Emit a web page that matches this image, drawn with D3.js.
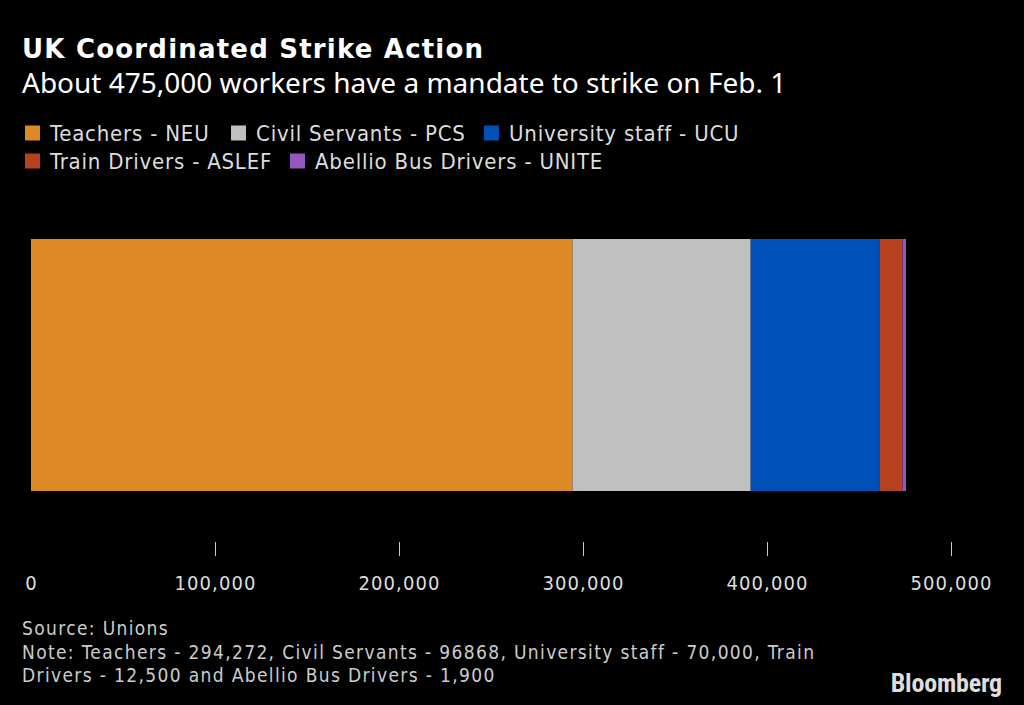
<!DOCTYPE html>
<html lang="en">
<head>
<meta charset="utf-8">
<title>UK Coordinated Strike Action</title>
<script src="https://d3js.org/d3.v7.min.js"></script>
<style>
  body { margin: 0; background: #000; }
  svg { display: block; }
</style>
</head>
<body>
<div id="chart"></div>
<script>
// data
var unions = ["Teachers - NEU", "Civil Servants - PCS", "University staff - UCU",
              "Train Drivers - ASLEF", "Abellio Bus Drivers - UNITE"];
var workers = [294272, 96868, 70000, 12500, 1900];
var colors = ["#dd8a26", "#c0c0c0", "#0050b8", "#b5421c", "#9457c0"];
var xTicks = [0, 100000, 200000, 300000, 400000, 500000];

var w = 1024, h = 705;
var cond = "'DejaVu Sans Condensed', 'DejaVu Sans', sans-serif";

var svg = d3.select("#chart").append("svg")
  .attr("width", w)
  .attr("height", h)
  .attr("font-family", cond);

svg.append("rect").attr("width", w).attr("height", h).attr("fill", "#000");

// titles
svg.append("text").attr("x", 22).attr("y", 58)
  .attr("fill", "#fff").attr("font-size", 26).attr("font-weight", "bold")
  .attr("font-family", "'DejaVu Sans', sans-serif")
  .attr("letter-spacing", 1.2)
  .text("UK Coordinated Strike Action");
svg.append("text").attr("x", 22).attr("y", 92.5)
  .attr("fill", "#fff").attr("font-size", 28)
  .attr("font-family", "'Noto Sans', sans-serif")
  .text("About 475,000 workers have a mandate to strike on Feb. 1");

// legend, two rows
var legendPos = [[25, 140.5], [231, 140.5], [484, 140.5], [25, 168.5], [290, 168.5]];
var lg = svg.append("g").selectAll("g")
  .data(unions)
  .enter().append("g")
  .attr("transform", function(d, i) { return "translate(" + legendPos[i][0] + "," + legendPos[i][1] + ")"; });
lg.append("rect").attr("x", 0).attr("y", -15).attr("width", 15).attr("height", 15)
  .attr("fill", function(d, i) { return colors[i]; });
lg.append("text").attr("x", 25).attr("y", 0)
  .attr("fill", "#ddd").attr("font-size", 22)
  .attr("letter-spacing", 0.8)
  .text(function(d) { return d; });

// scale
var x = d3.scaleLinear().domain([0, 500000]).range([31, 951]);

// stacked segments
var stack = [];
var run = 0;
workers.forEach(function(v, i) {
  stack.push({ name: unions[i], x0: run, x1: run + v, color: colors[i] });
  run += v;
});

svg.append("g").selectAll("rect")
  .data(stack)
  .enter().append("rect")
  .attr("x", function(d) { return x(d.x0); })
  .attr("y", 239)
  .attr("width", function(d) { return x(d.x1) - x(d.x0); })
  .attr("height", 252)
  .attr("fill", function(d) { return d.color; });

// axis
var xAxis = d3.axisBottom(x)
  .tickValues(xTicks)
  .tickSize(14)
  .tickPadding(20)
  .tickFormat(d3.format(","));

var ax = svg.append("g")
  .attr("transform", "translate(0,542)")
  .call(xAxis)
  .attr("font-family", cond);
ax.select(".domain").remove();
ax.selectAll(".tick line").attr("stroke", "#ccc")
  .attr("display", function(d) { return d === 0 ? "none" : null; });
ax.selectAll(".tick text")
  .attr("fill", "#ddd")
  .attr("font-size", 20)
  .attr("letter-spacing", 1.1);

// footer
var foot = svg.append("g").attr("fill", "#ccc").attr("font-size", 19).attr("letter-spacing", 1.35);
foot.append("text").attr("x", 22).attr("y", 635).text("Source: Unions");
foot.append("text").attr("x", 22).attr("y", 659)
  .text("Note: Teachers - 294,272, Civil Servants - 96868, University staff - 70,000, Train");
foot.append("text").attr("x", 22).attr("y", 682)
  .text("Drivers - 12,500 and Abellio Bus Drivers - 1,900");

svg.append("text").attr("x", 1002).attr("y", 692)
  .attr("text-anchor", "end")
  .attr("fill", "#ddd").attr("font-size", 26).attr("font-weight", "bold")
  .attr("font-family", "'Roboto Condensed', sans-serif")
  .attr("letter-spacing", -0.2)
  .text("Bloomberg");
</script>
</body>
</html>
